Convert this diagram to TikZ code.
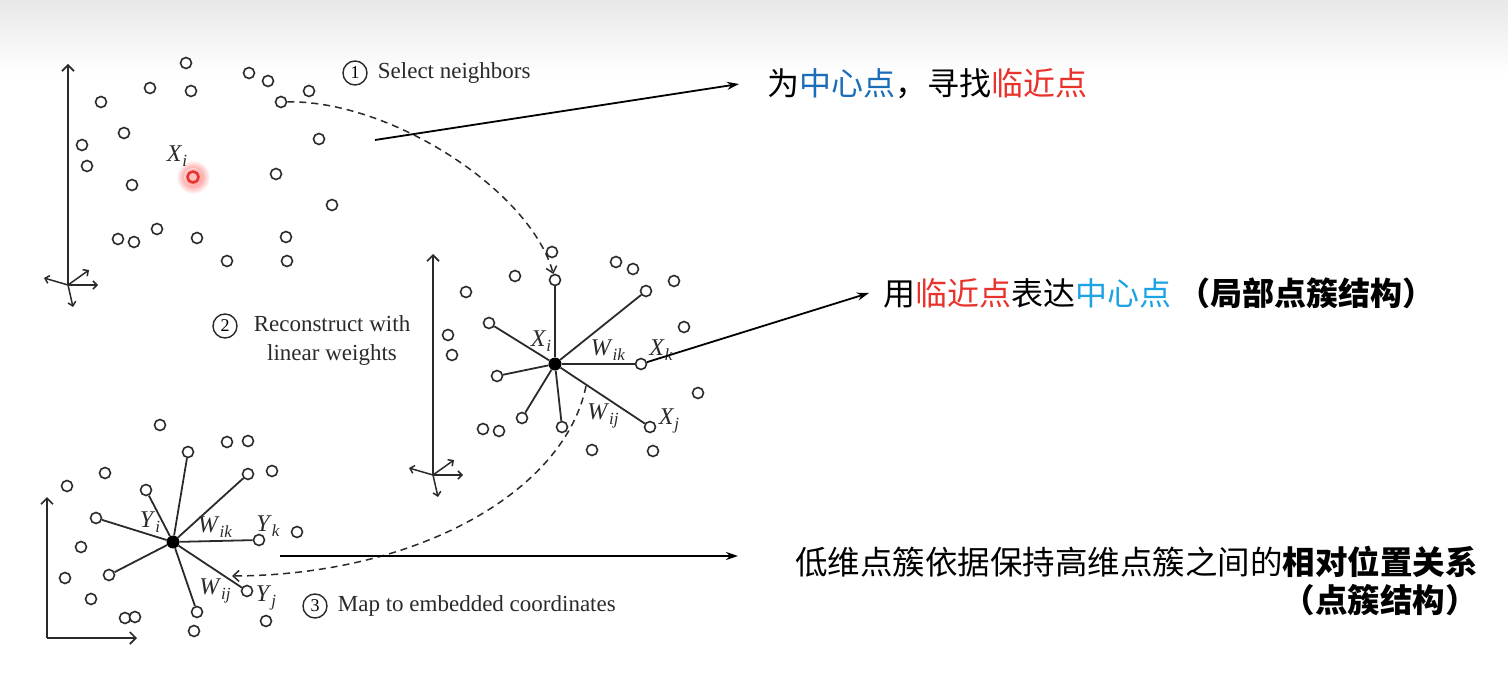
\documentclass[tikz,border=0pt]{standalone}
\usepackage{fontspec}
\setmainfont{Liberation Serif}
\newfontfamily\cjk{Noto Sans CJK SC}
\usetikzlibrary{arrows.meta, positioning}
\definecolor{myblue}{HTML}{1B6DB8}
\definecolor{myred}{HTML}{E8322B}
\definecolor{mycyan}{HTML}{1CA3E3}
\definecolor{myink}{HTML}{2A2A2A}
\newcommand\vsub[2]{\textit{#1}\raisebox{-5pt}{\fontsize{17}{17}\selectfont\textit{#2}}}

\begin{document}
\begin{tikzpicture}[x=1pt, y=-1pt,
  dot/.style={circle, draw=myink, fill=white, line width=1.6pt, inner sep=0pt, minimum size=11pt},
  hub/.style={circle, fill=black, inner sep=0pt, minimum size=13pt},
  spoke/.style={draw=myink, line width=1.8pt},
  ax/.style={draw=myink, line width=1.7pt, -{Straight Barb[length=6pt, width=12pt]}},
  minax/.style={draw=myink, line width=1.5pt, -{Straight Barb[length=4pt, width=8pt]}},
  dasharr/.style={myink, line width=1.5pt, dash pattern=on 7pt off 5pt, -{Straight Barb[length=6pt, width=11pt]}},
  arr/.style={-{Stealth[length=12pt, width=8pt]}, line width=1.8pt},
  num/.style={circle, draw=myink, line width=1.4pt, inner sep=0pt, minimum size=24pt, font=\fontsize{18}{18}\selectfont},
  caption/.style={font=\fontsize{23}{29}\selectfont, text=myink, inner sep=1pt},
  lab/.style={font=\fontsize{24}{24}\selectfont, text=myink, inner sep=0pt},
  note/.style={font=\cjk\fontsize{32}{38}\selectfont, inner sep=0pt}
]
\useasboundingbox (0,0) rectangle (1508,687);
\shade[top color=black!9, bottom color=white] (0,0) rectangle (1508,75);

% input space
\coordinate (o1) at (68,285);
\draw[ax] (o1) -- ++(0,-221);
\draw[minax] (o1) -- ++(-24,-7);
\draw[minax] (o1) -- ++(30,0);
\draw[minax] (o1) -- ++(21,-15);
\draw[minax] (o1) -- ++(5,22);
\foreach \x/\y [count=\k] in {186/63, 150/88, 191/91, 101/102, 249/73, 268/81, 309/91, 281/102,
    124/133, 82/145, 87/166, 319/139, 276/174, 132/185, 332/205, 157/229, 118/239, 134/242,
    197/238, 286/237, 227/261, 287/261}
  \node[dot] (a\k) at (\x,\y) {};
\shade[inner color=red!70, outer color=white] (193,177) circle (17pt);
\shade[inner color=red, outer color=red!15] (193,177) circle (9pt);
\node[dot, draw=myred, fill=red!25, line width=2.4pt] (xi) at (193,177) {};
\node[lab] (lxi) at (177,156) {\vsub{X}{i}};

% neighbourhood
\coordinate (o2) at (433,475);
\draw[ax] (o2) -- ++(0,-221);
\draw[minax] (o2) -- ++(-24,-7);
\draw[minax] (o2) -- ++(30,0);
\draw[minax] (o2) -- ++(21,-15);
\draw[minax] (o2) -- ++(5,22);
\foreach \x/\y [count=\k] in {552/252, 515/276, 616/262, 633/269, 674/281, 466/292, 684/327,
    448/335, 452/355, 698/393, 483/429, 499/431, 592/450, 653/451}
  \node[dot] (bf\k) at (\x,\y) {};
\foreach \x/\y [count=\k] in {555/280, 646/291, 489/323, 641/364, 497/376, 522/418, 562/427, 650/427}
  \node[dot] (bs\k) at (\x,\y) {};
\node[hub] (b0) at (555,364) {};
\foreach \k in {1,...,8} \draw[spoke] (b0) -- (bs\k);
\node[lab] at (541,341) {\vsub{X}{i}};
\node[lab] at (608,350) {\vsub{W}{ik}};
\node[lab] at (661,350) {\vsub{X}{k}};
\node[lab] at (603,416) {\vsub{W}{ij}};
\node[lab] at (669,421) {\vsub{X}{j}};

% embedding
\coordinate (o3) at (47,638);
\draw[ax] (o3) -- ++(0,-141);
\draw[ax] (o3) -- ++(90,0);
\foreach \x/\y [count=\k] in {160/425, 227/442, 248/441, 105/473, 67/486, 272/471, 297/532,
    81/547, 65/578, 91/599, 125/618, 135/617, 266/621, 194/631}
  \node[dot] (cf\k) at (\x,\y) {};
\foreach \x/\y [count=\k] in {188/452, 248/474, 146/490, 96/518, 259/540, 109/575, 247/591, 197/612}
  \node[dot] (cs\k) at (\x,\y) {};
\node[hub] (c0) at (173,542) {};
\foreach \k in {1,...,8} \draw[spoke] (c0) -- (cs\k);
\node[lab] at (150,522) {\vsub{Y}{i}};
\node[lab] at (215,527) {\vsub{W}{ik}};
\node[lab] at (268,526) {\vsub{Y}{k}};
\node[lab] at (215,591) {\vsub{W}{ij}};
\node[lab] at (266,598) {\vsub{Y}{j}};

% steps
\node[num] (n1) at (355,73) {1};
\node[caption, right=9pt of n1] (c1) {Select neighbors};
\node[num] (n2) at (225,326) {2};
\node[caption, align=center] (c2) at (332,341) {Reconstruct with\\linear weights};
\node[num] (n3) at (315,606) {3};
\node[caption, right=9pt of n3] (c3) {Map to embedded coordinates};

\draw[dasharr] (a8) .. controls (390,100) and (530,190) .. (bs1);
\coordinate (q1) at (586,386);
\coordinate (q2) at (232,576);
\draw[dasharr] (q1) .. controls (565,490) and (420,575) .. (q2);

% notes
\node[note, anchor=west] (t1) at (767,84) {为{\color{myblue}中心点}，寻找{\color{myred}临近点}};
\node[note, anchor=west] (t2) at (883,293) {用{\color{myred}临近点}表达{\color{mycyan}中心点} \textbf{（局部点簇结构）}};
\node[note, anchor=east, align=right, font=\cjk\fontsize{32.5}{38}\selectfont] (t3) at (1478,581) {低维点簇依据保持高维点簇之间的\textbf{相对位置关系}\\\textbf{（点簇结构）}};

\coordinate (p1) at (375,140);
\draw[arr] (p1) -- ([xshift=-28pt]t1.west);
\draw[arr] (bs4) -- ([xshift=-14pt]t2.west);
\coordinate (p3) at (280,556);
\coordinate (p4) at (738,556);
\draw[arr] (p3) -- (p4);
\end{tikzpicture}
\end{document}
